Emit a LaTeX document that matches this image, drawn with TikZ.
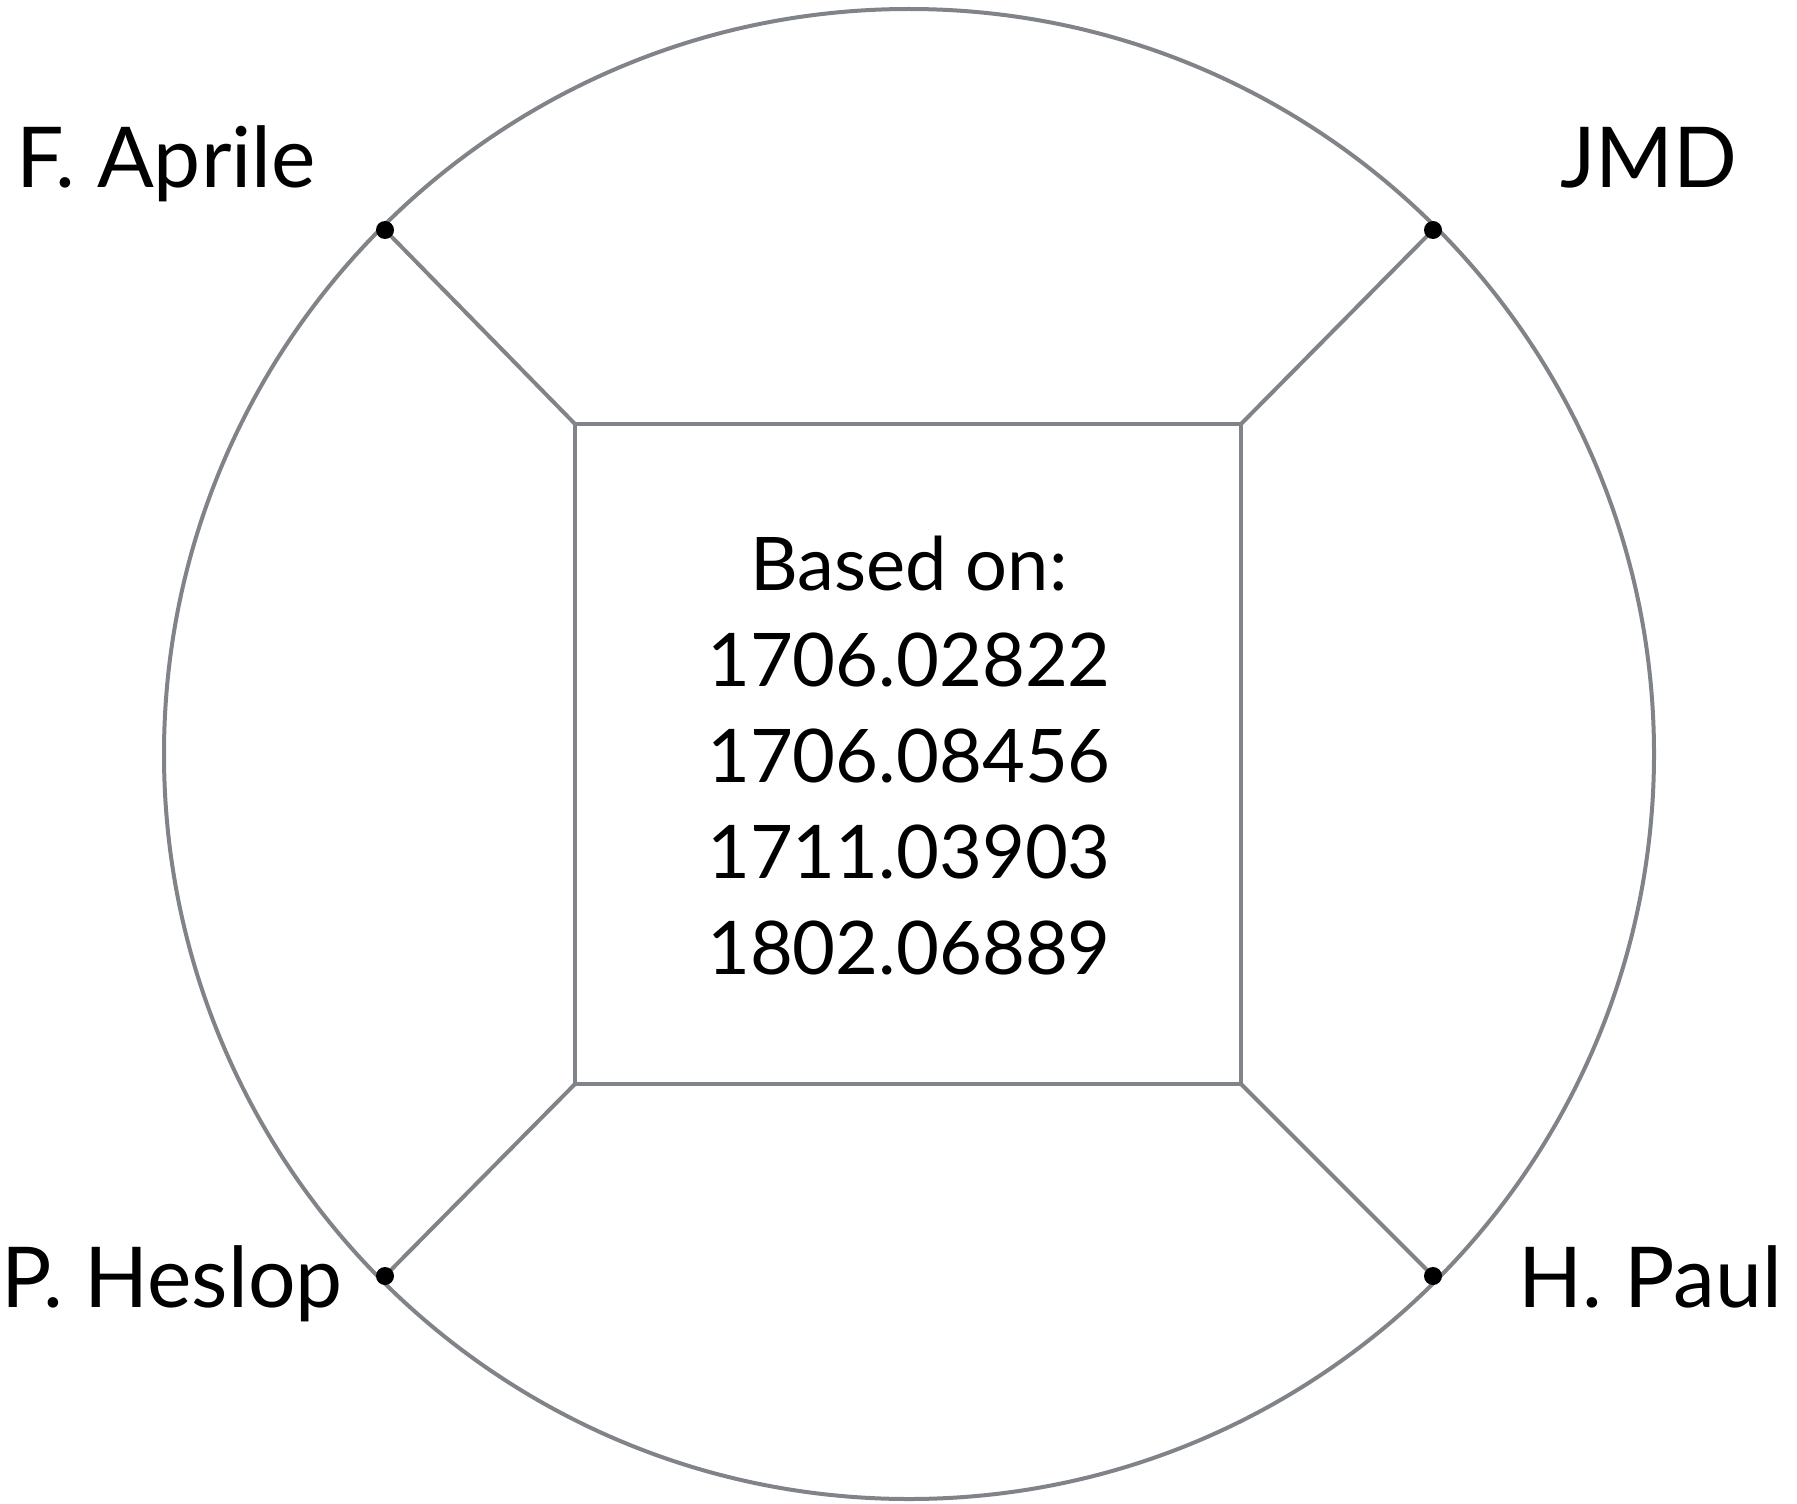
\documentclass[tikz,border=0pt]{standalone}
\usepackage{fontspec}
\setmainfont{Lato}
\usepackage{tikz}
\definecolor{ringgray}{RGB}{128,131,136}

\begin{document}
\begin{tikzpicture}[x=0.5pt,y=-0.5pt,
	ring/.style={draw=ringgray, line width=2pt},
	who/.style={font=\fontsize{42}{48}\selectfont, inner sep=0pt},
	refs/.style={font=\fontsize{37}{48}\selectfont, align=center, inner sep=0pt}]
			\useasboundingbox (0,0) rectangle (1797,1503);
			\coordinate (ctr) at (909,754);
			\coordinate (sq1) at (575,424);
			\coordinate (sq2) at (1241,424);
			\coordinate (sq3) at (1241,1084);
			\coordinate (sq4) at (575,1084);
			\coordinate (pt1) at (385,230);
			\coordinate (pt2) at (1433,230);
			\coordinate (pt3) at (1433,1276);
			\coordinate (pt4) at (385,1276);
			\draw[ring] (ctr) circle(745);
			\draw[ring] (sq1) -- (sq2) -- (sq3) -- (sq4) -- cycle;
			\draw[ring] (pt1) -- (sq1);
			\draw[ring] (pt2) -- (sq2);
			\draw[ring] (pt3) -- (sq3);
			\draw[ring] (pt4) -- (sq4);
			\fill (pt1) circle(9);
			\fill (pt2) circle(9);
			\fill (pt3) circle(9);
			\fill (pt4) circle(9);
			\node[who, anchor=base] (aprile) at (166,188) {F. Aprile};
			\node[who, anchor=base] (jmd) at (1649,188) {JMD};
			\node[who, anchor=base east] (heslop) at (343,1307) {P. Heslop};
			\node[who, anchor=base east] (paul) at (1782,1307) {H. Paul};
			\node[refs] (based) at (909,756) {Based on:\\1706.02822\\1706.08456\\1711.03903\\1802.06889};
		\end{tikzpicture}
\end{document}
